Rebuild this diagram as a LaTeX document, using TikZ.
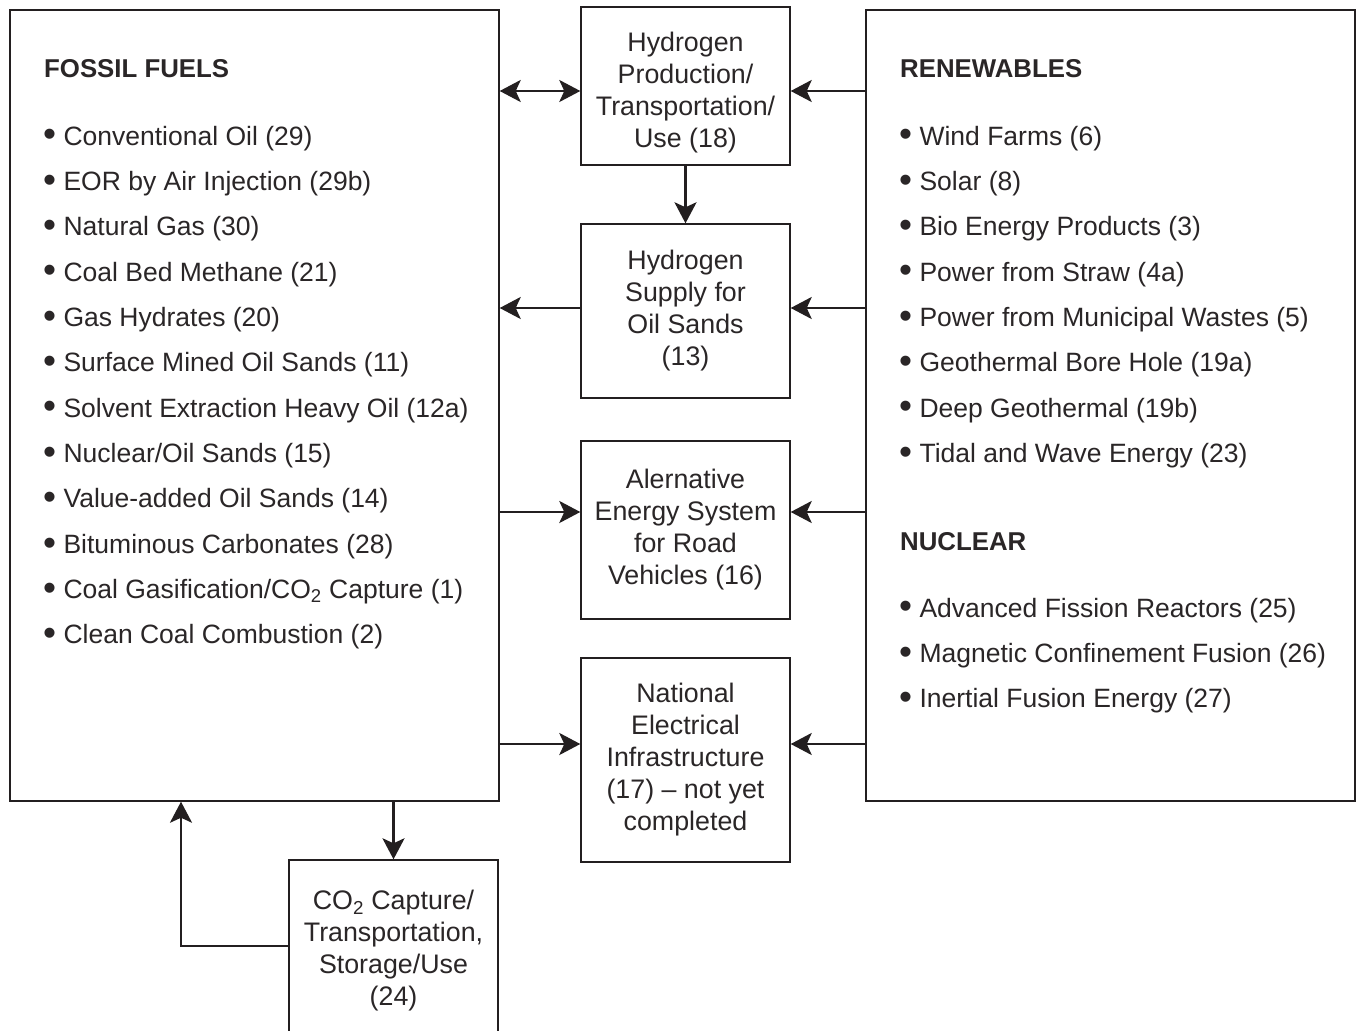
\documentclass[tikz,border=0pt]{standalone}
\usepackage{fontspec}
\setmainfont{Liberation Sans}
\usetikzlibrary{arrows.meta}
\definecolor{linec}{HTML}{231F20}
\definecolor{textc}{HTML}{2A2627}
\newcommand{\bigbul}{\raisebox{-1.8pt}{\scalebox{1.4}{\textbullet}}}
\begin{document}
\begin{tikzpicture}[x=1pt,y=-1pt,
 box/.style={draw=linec, line width=1.4pt, inner sep=0pt},
 cbox/.style={box, minimum width=209pt, align=center, font=\fontsize{26.8}{32}\selectfont, text=textc},
 ctext/.style={inner sep=0pt, align=center, font=\fontsize{26.8}{32}\selectfont, text=textc},
 arr/.style={draw=linec, line width=2.6pt, -{Stealth[length=21pt,width=22pt,inset=5pt]}},
 darr/.style={draw=linec, line width=2.6pt, {Stealth[length=21pt,width=22pt,inset=5pt]}-{Stealth[length=21pt,width=22pt,inset=5pt]}},
 item/.style={anchor=base west, inner sep=0pt, font=\fontsize{26.5}{30}\selectfont, text=textc},
 head/.style={item, font=\fontsize{25.8}{30}\selectfont\bfseries}]
\path[use as bounding box, clip] (0,0) rectangle (1356,1030);
\fill[white] (0,0) rectangle (1356,1030);

% big boxes
\node[box, minimum width=489pt, minimum height=791pt] (ff) at (254.5,405.5) {};
\node[box, minimum width=489pt, minimum height=791pt] (rn) at (1110.5,405.5) {};

% centre boxes
\node[box, minimum width=209pt, minimum height=158pt] (hp) at (685.5,86) {};
\node[ctext] (hpt) at (685.5,93) {Hydrogen\\Production/\\Transportation/\\Use (18)};
\node[cbox, minimum height=174pt] (hs) at (685.5,311) {Hydrogen\\Supply for\\Oil Sands\\(13)};
\node[cbox, minimum height=178pt] (ae) at (685.5,530) {Alernative\\Energy System\\for Road\\Vehicles (16)};
\node[cbox, minimum height=204pt] (ne) at (685.5,760) {National\\Electrical\\Infrastructure\\(17) -- not yet\\completed};
\node[cbox, minimum height=182pt] (co) at (393.5,951) {CO\textsubscript{2} Capture/\\Transportation,\\Storage/Use\\(24)};

% fossil list
\node[head] (fh) at (44,78) {FOSSIL FUELS};
\foreach \t [count=\i from 0] in {Conventional Oil (29), EOR by Air Injection (29b), Natural Gas (30), Coal Bed Methane (21), Gas Hydrates (20), Surface Mined Oil Sands (11), Solvent Extraction Heavy Oil (12a), Nuclear/Oil Sands (15), Value-added Oil Sands (14), Bituminous Carbonates (28), {Coal Gasification/CO\textsubscript{2} Capture (1)}, Clean Coal Combustion (2)}
  \node[item] (f\i) at (43,145+45.36*\i) {\bigbul\ \t};

% renewables list
\node[head] (rh) at (900,78) {RENEWABLES};
\foreach \t [count=\i from 0] in {Wind Farms (6), Solar (8), Bio Energy Products (3), Power from Straw (4a), Power from Municipal Wastes (5), Geothermal Bore Hole (19a), Deep Geothermal (19b), Tidal and Wave Energy (23)}
  \node[item] (r\i) at (899,145+45.36*\i) {\bigbul\ \t};
\node[head] (nh) at (900,550) {NUCLEAR};
\foreach \t [count=\i from 0] in {Advanced Fission Reactors (25), Magnetic Confinement Fusion (26), Inertial Fusion Energy (27)}
  \node[item] (n\i) at (899,617+45.36*\i) {\bigbul\ \t};

% connectors
\draw[darr] (ff.east |- 0,91) -- (hp.west |- 0,91);
\draw[arr] (rn.west |- 0,91) -- (hp.east |- 0,91);
\draw[arr] (hp.south) -- (hs.north);
\draw[arr] (hs.west |- 0,308) -- (ff.east |- 0,308);
\draw[arr] (rn.west |- 0,308) -- (hs.east |- 0,308);
\draw[arr] (ff.east |- 0,512) -- (ae.west |- 0,512);
\draw[arr] (rn.west |- 0,512) -- (ae.east |- 0,512);
\draw[arr] (ff.east |- 0,744) -- (ne.west |- 0,744);
\draw[arr] (rn.west |- 0,744) -- (ne.east |- 0,744);
\draw[arr] (ff.south -| co.north) -- (co.north);
\draw[arr] (co.west |- 0,946) -| (ff.south -| 181,0);
\end{tikzpicture}
\end{document}
